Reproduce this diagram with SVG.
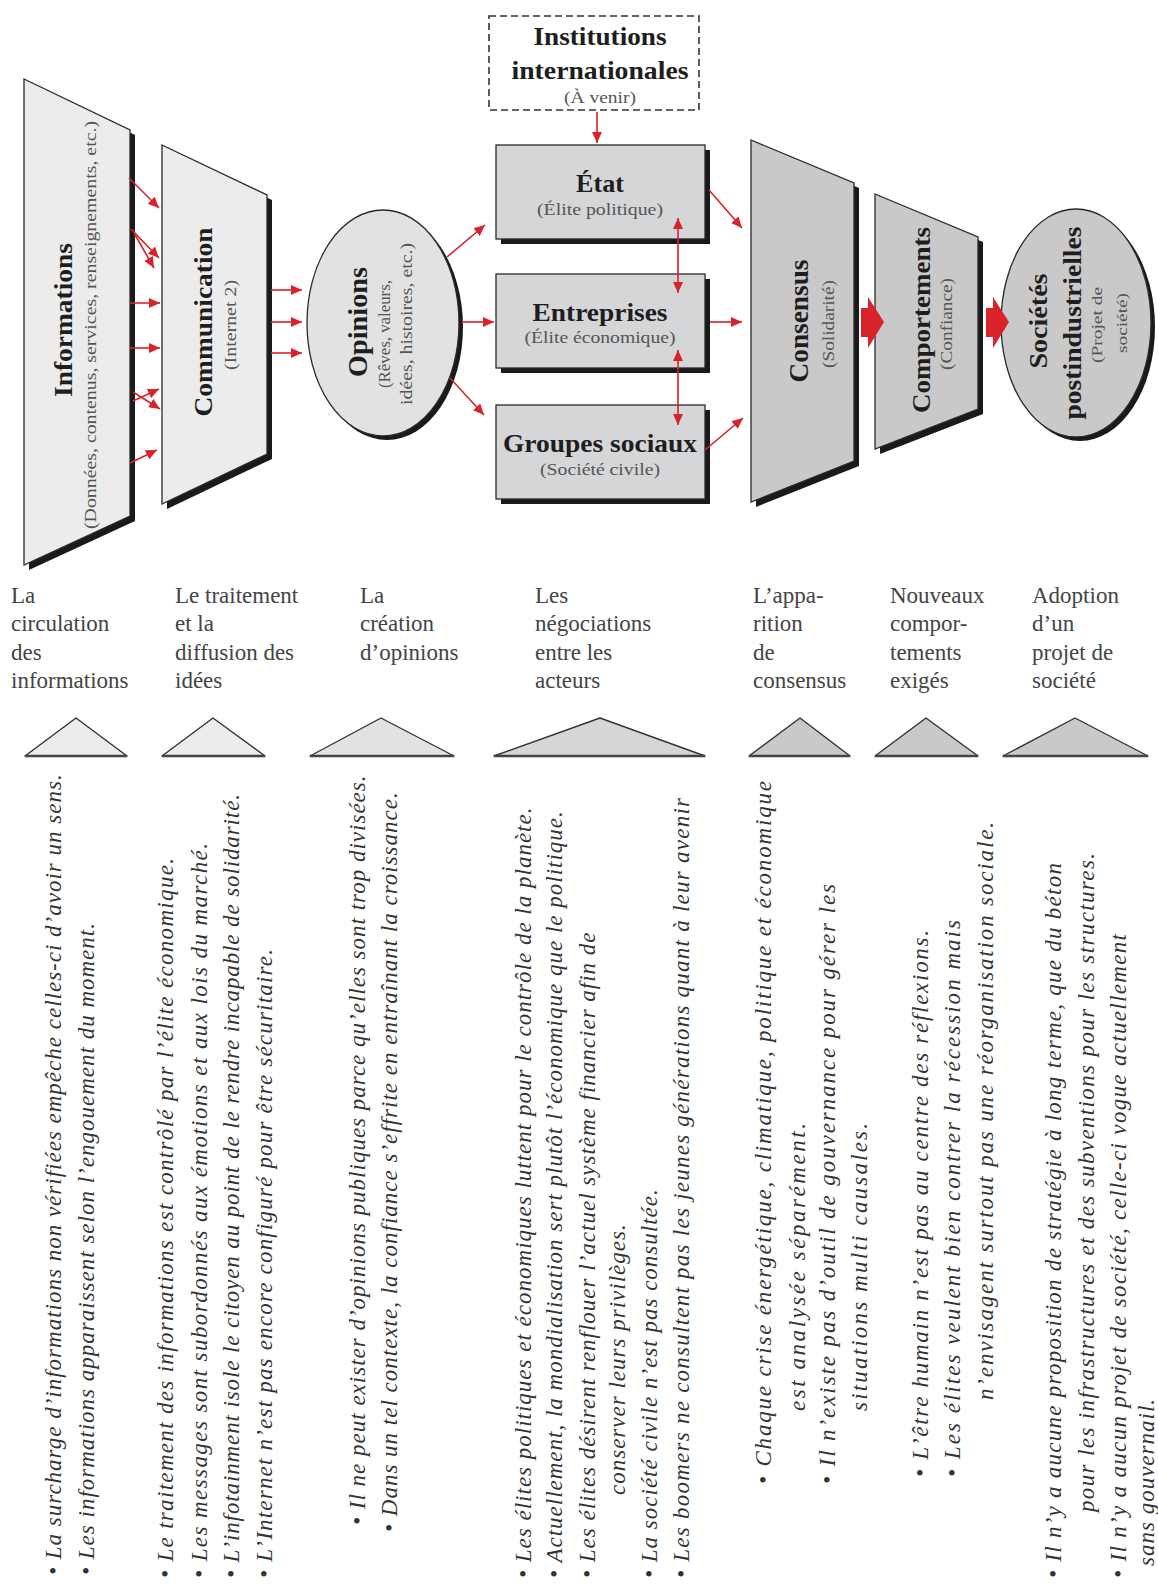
<svg xmlns="http://www.w3.org/2000/svg" width="1158" height="1591" viewBox="0 0 1158 1591">
  <style>
    .bg { fill: #ffffff; }
    .lbl { font-family: "Liberation Serif", "Times New Roman", serif; font-weight: bold; fill: #1e1e1e; }
    .sub { font-family: "Liberation Serif", "Times New Roman", serif; fill: #555555; }
    .stage { font-family: "Liberation Serif", "Times New Roman", serif; font-size: 23px; fill: #444444; }
    .note { font-family: "Liberation Serif", "Times New Roman", serif; font-style: italic; font-size: 23px; fill: #333333; letter-spacing: 1px; }
    .shadow { fill: #1a1a1a; }
    .edge { stroke: #2a2a2a; stroke-width: 1.3; }
    .light { fill: #ececec; }
    .mid { fill: #e2e2e2; }
    .box { fill: #d4d6d8; }
    .dark { fill: #c9c9c9; }
    .link { stroke: #d8232a; stroke-width: 1.6; fill: none; }
    .block { fill: #d8232a; }
    .tri { stroke: #333333; stroke-width: 1.4; stroke-linejoin: round; }
    .base { stroke: #444444; stroke-width: 2.6; }
  </style>
  <defs>
    <marker id="ah" markerUnits="userSpaceOnUse" markerWidth="12" markerHeight="10" refX="11" refY="5" orient="auto-start-reverse">
      <path d="M0,0 L11,5 L0,10 z" fill="#d8232a"/>
    </marker>
  </defs>

  <rect class="bg" x="0" y="0" width="1158" height="1591"/>

  <!-- Node: Informations -->
  <g id="informations">
    <polygon class="shadow" points="29,84 135,135 135,521 29,570"/>
    <polygon class="light edge" points="24,79 130,130 130,516 24,565"/>
    <text class="lbl" font-size="26" text-anchor="middle" textLength="154" lengthAdjust="spacingAndGlyphs" transform="translate(72,320) rotate(-90)">Informations</text>
    <text class="sub" font-size="17" text-anchor="middle" textLength="408" lengthAdjust="spacingAndGlyphs" transform="translate(96,325) rotate(-90)">(Données, contenus, services, renseignements, etc.)</text>
  </g>

  <!-- Node: Communication -->
  <g id="communication">
    <polygon class="shadow" points="167,150 272,200 272,459 167,509"/>
    <polygon class="light edge" points="162,145 267,195 267,454 162,504"/>
    <text class="lbl" font-size="26" text-anchor="middle" textLength="189" lengthAdjust="spacingAndGlyphs" transform="translate(212,322) rotate(-90)">Communication</text>
    <text class="sub" font-size="16" text-anchor="middle" textLength="90" lengthAdjust="spacingAndGlyphs" transform="translate(236,325) rotate(-90)">(Internet 2)</text>
  </g>

  <!-- Node: Opinions -->
  <g id="opinions">
    <ellipse class="shadow" cx="387" cy="327" rx="76" ry="113"/>
    <ellipse class="mid edge" cx="383" cy="323" rx="76" ry="113"/>
    <text class="lbl" font-size="27" text-anchor="middle" textLength="110" lengthAdjust="spacingAndGlyphs" transform="translate(367,322) rotate(-90)">Opinions</text>
    <text class="sub" font-size="17" text-anchor="middle" textLength="108" lengthAdjust="spacingAndGlyphs" transform="translate(390,334) rotate(-90)">(Rêves, valeurs,</text>
    <text class="sub" font-size="17" text-anchor="middle" textLength="162" lengthAdjust="spacingAndGlyphs" transform="translate(412,324) rotate(-90)">idées, histoires, etc.)</text>
  </g>

  <!-- Node: Institutions internationales -->
  <g id="institutions">
    <rect x="489" y="16" width="210" height="94" fill="#ffffff" stroke="#333333" stroke-width="1.6" stroke-dasharray="7,4"/>
    <text class="lbl" font-size="25" text-anchor="middle" x="600" y="45" textLength="133" lengthAdjust="spacingAndGlyphs">Institutions</text>
    <text class="lbl" font-size="25" text-anchor="middle" x="600" y="79" textLength="177" lengthAdjust="spacingAndGlyphs">internationales</text>
    <text class="sub" font-size="16" text-anchor="middle" x="600" y="103" textLength="72" lengthAdjust="spacingAndGlyphs">(À venir)</text>
  </g>

  <!-- Node: État -->
  <g id="etat">
    <rect class="shadow" x="501" y="150" width="209" height="94"/>
    <rect class="box edge" x="496" y="145" width="209" height="94"/>
    <text class="lbl" font-size="26" text-anchor="middle" x="600" y="192" textLength="48" lengthAdjust="spacingAndGlyphs">État</text>
    <text class="sub" font-size="17" text-anchor="middle" x="600" y="215" textLength="126" lengthAdjust="spacingAndGlyphs">(Élite politique)</text>
  </g>

  <!-- Node: Entreprises -->
  <g id="entreprises">
    <rect class="shadow" x="501" y="279" width="209" height="94"/>
    <rect class="box edge" x="496" y="274" width="209" height="94"/>
    <text class="lbl" font-size="26" text-anchor="middle" x="600" y="321" textLength="135" lengthAdjust="spacingAndGlyphs">Entreprises</text>
    <text class="sub" font-size="17" text-anchor="middle" x="600" y="343" textLength="151" lengthAdjust="spacingAndGlyphs">(Élite économique)</text>
  </g>

  <!-- Node: Groupes sociaux -->
  <g id="groupes">
    <rect class="shadow" x="501" y="410" width="209" height="94"/>
    <rect class="box edge" x="496" y="405" width="209" height="94"/>
    <text class="lbl" font-size="26" text-anchor="middle" x="600" y="452" textLength="194" lengthAdjust="spacingAndGlyphs">Groupes sociaux</text>
    <text class="sub" font-size="17" text-anchor="middle" x="600" y="475" textLength="120" lengthAdjust="spacingAndGlyphs">(Société civile)</text>
  </g>

  <!-- Node: Consensus -->
  <g id="consensus">
    <polygon class="shadow" points="756,145 859,188 859,466 756,507"/>
    <polygon class="dark edge" points="751,140 854,183 854,461 751,502"/>
    <text class="lbl" font-size="27" text-anchor="middle" textLength="123" lengthAdjust="spacingAndGlyphs" transform="translate(808,321) rotate(-90)">Consensus</text>
    <text class="sub" font-size="16" text-anchor="middle" textLength="88" lengthAdjust="spacingAndGlyphs" transform="translate(834,324) rotate(-90)">(Solidarité)</text>
  </g>

  <!-- Node: Comportements -->
  <g id="comportements">
    <polygon class="shadow" points="880,199 983,242 983,414 880,454"/>
    <polygon class="dark edge" points="875,194 978,237 978,409 875,449"/>
    <text class="lbl" font-size="26" text-anchor="middle" textLength="186" lengthAdjust="spacingAndGlyphs" transform="translate(930,320) rotate(-90)">Comportements</text>
    <text class="sub" font-size="16" text-anchor="middle" textLength="92" lengthAdjust="spacingAndGlyphs" transform="translate(952,324) rotate(-90)">(Confiance)</text>
  </g>

  <!-- Node: Sociétés postindustrielles -->
  <g id="societes">
    <ellipse class="shadow" cx="1080" cy="327" rx="75" ry="114"/>
    <ellipse class="dark edge" cx="1076" cy="323" rx="75" ry="114"/>
    <text class="lbl" font-size="26" text-anchor="middle" textLength="95" lengthAdjust="spacingAndGlyphs" transform="translate(1047,321) rotate(-90)">Sociétés</text>
    <text class="lbl" font-size="26" text-anchor="middle" textLength="193" lengthAdjust="spacingAndGlyphs" transform="translate(1081,323) rotate(-90)">postindustrielles</text>
    <text class="sub" font-size="15" text-anchor="middle" textLength="76" lengthAdjust="spacingAndGlyphs" transform="translate(1102,325) rotate(-90)">(Projet de</text>
    <text class="sub" font-size="15" text-anchor="middle" textLength="60" lengthAdjust="spacingAndGlyphs" transform="translate(1127,323) rotate(-90)">société)</text>
  </g>

  <!-- Connectors -->
  <g id="connectors">
    <!-- Informations to Communication -->
    <line class="link" x1="129" y1="178" x2="159" y2="208" marker-end="url(#ah)"/>
    <line class="link" x1="131" y1="229" x2="159" y2="258" marker-end="url(#ah)"/>
    <line class="link" x1="134" y1="233" x2="154" y2="268" marker-end="url(#ah)"/>
    <line class="link" x1="130" y1="303" x2="160" y2="303" marker-end="url(#ah)"/>
    <line class="link" x1="130" y1="348" x2="160" y2="348" marker-end="url(#ah)"/>
    <line class="link" x1="133" y1="392" x2="160" y2="409" marker-end="url(#ah)"/>
    <line class="link" x1="133" y1="401" x2="159" y2="389" marker-end="url(#ah)"/>
    <line class="link" x1="130" y1="463" x2="157" y2="450" marker-end="url(#ah)"/>
    <!-- Communication to Opinions -->
    <line class="link" x1="271" y1="290" x2="302" y2="290" marker-end="url(#ah)"/>
    <line class="link" x1="271" y1="322" x2="302" y2="322" marker-end="url(#ah)"/>
    <line class="link" x1="271" y1="353" x2="302" y2="353" marker-end="url(#ah)"/>
    <!-- Opinions to actors -->
    <line class="link" x1="447" y1="257" x2="485" y2="225" marker-end="url(#ah)"/>
    <line class="link" x1="462" y1="322" x2="494" y2="322" marker-end="url(#ah)"/>
    <line class="link" x1="450" y1="378" x2="484" y2="415" marker-end="url(#ah)"/>
    <!-- Institutions to État -->
    <line class="link" x1="597" y1="112" x2="597" y2="143" marker-end="url(#ah)"/>
    <!-- Between actors -->
    <line class="link" x1="678" y1="218" x2="678" y2="293" marker-start="url(#ah)" marker-end="url(#ah)"/>
    <line class="link" x1="678" y1="350" x2="678" y2="425" marker-start="url(#ah)" marker-end="url(#ah)"/>
    <!-- Actors to Consensus -->
    <line class="link" x1="709" y1="190" x2="742" y2="228" marker-end="url(#ah)"/>
    <line class="link" x1="710" y1="322" x2="742" y2="322" marker-end="url(#ah)"/>
    <line class="link" x1="705" y1="450" x2="743" y2="418" marker-end="url(#ah)"/>
    <!-- Block arrows -->
    <polygon class="block" points="861,308 868,308 868,297 884,322 868,348 868,337 861,337"/>
    <polygon class="block" points="986,308 993,308 993,297 1009,322 993,348 993,337 986,337"/>
  </g>

  <!-- Stage labels -->
  <g id="stages">
    <text class="stage" x="11" y="603">La</text>
    <text class="stage" x="11" y="631">circulation</text>
    <text class="stage" x="11" y="660">des</text>
    <text class="stage" x="11" y="688">informations</text>

    <text class="stage" x="175" y="603">Le traitement</text>
    <text class="stage" x="175" y="631">et la</text>
    <text class="stage" x="175" y="660">diffusion des</text>
    <text class="stage" x="175" y="688">idées</text>

    <text class="stage" x="360" y="603">La</text>
    <text class="stage" x="360" y="631">création</text>
    <text class="stage" x="360" y="660">d’opinions</text>

    <text class="stage" x="535" y="603">Les</text>
    <text class="stage" x="535" y="631">négociations</text>
    <text class="stage" x="535" y="660">entre les</text>
    <text class="stage" x="535" y="688">acteurs</text>

    <text class="stage" x="753" y="603">L’appa-</text>
    <text class="stage" x="753" y="631">rition</text>
    <text class="stage" x="753" y="660">de</text>
    <text class="stage" x="753" y="688">consensus</text>

    <text class="stage" x="890" y="603">Nouveaux</text>
    <text class="stage" x="890" y="631">compor-</text>
    <text class="stage" x="890" y="660">tements</text>
    <text class="stage" x="890" y="688">exigés</text>

    <text class="stage" x="1032" y="603">Adoption</text>
    <text class="stage" x="1032" y="631">d’un</text>
    <text class="stage" x="1032" y="660">projet de</text>
    <text class="stage" x="1032" y="688">société</text>
  </g>

  <!-- Stage markers -->
  <g id="markers">
    <polygon class="tri light" points="25,756 76,718 127,756"/>
    <line class="base" x1="25" y1="756" x2="127" y2="756"/>
    <polygon class="tri light" points="162,756 213,718 265,756"/>
    <line class="base" x1="162" y1="756" x2="265" y2="756"/>
    <polygon class="tri mid" points="310,756 381,718 454,756"/>
    <line class="base" x1="310" y1="756" x2="454" y2="756"/>
    <polygon class="tri box" points="494,756 600,718 705,756"/>
    <line class="base" x1="494" y1="756" x2="705" y2="756"/>
    <polygon class="tri dark" points="749,756 800,718 850,756"/>
    <line class="base" x1="749" y1="756" x2="850" y2="756"/>
    <polygon class="tri dark" points="875,756 926,718 978,756"/>
    <line class="base" x1="875" y1="756" x2="978" y2="756"/>
    <polygon class="tri dark" points="1003,756 1075,718 1148,756"/>
    <line class="base" x1="1003" y1="756" x2="1148" y2="756"/>
  </g>

  <!-- Observations, read bottom to top -->
  <g id="notes" xml:space="preserve">
    <text class="note" transform="translate(61,1575) rotate(-90)">• La surcharge d’informations non vérifiées empêche celles-ci d’avoir un sens.</text>
    <text class="note" transform="translate(94,1575) rotate(-90)">• Les informations apparaissent selon l’engouement du moment.</text>

    <text class="note" textLength="721" transform="translate(173,1578) rotate(-90)">• Le traitement des informations est contrôlé par l’élite économique.</text>
    <text class="note" textLength="736" transform="translate(207,1578) rotate(-90)">• Les messages sont subordonnés aux émotions et aux lois du marché.</text>
    <text class="note" textLength="785" transform="translate(239,1578) rotate(-90)">• L’infotainment isole le citoyen au point de le rendre incapable de solidarité.</text>
    <text class="note" textLength="630" transform="translate(272,1578) rotate(-90)">• L’Internet n’est pas encore configuré pour être sécuritaire.</text>

    <text class="note" transform="translate(365,1525) rotate(-90)">• Il ne peut exister d’opinions publiques parce qu’elles sont trop divisées.</text>
    <text class="note" transform="translate(397,1532) rotate(-90)">• Dans un tel contexte, la confiance s’effrite en entraînant la croissance.</text>

    <text class="note" transform="translate(531,1578) rotate(-90)">• Les élites politiques et économiques luttent pour le contrôle de la planète.</text>
    <text class="note" transform="translate(562,1578) rotate(-90)">• Actuellement, la mondialisation sert plutôt l’économique que le politique.</text>
    <text class="note" transform="translate(595,1578) rotate(-90)">• Les élites désirent renflouer l’actuel système financier afin de</text>
    <text class="note" transform="translate(625,1495) rotate(-90)">conserver leurs privilèges.</text>
    <text class="note" transform="translate(657,1578) rotate(-90)">• La société civile n’est pas consultée.</text>
    <text class="note" textLength="781" transform="translate(689,1578) rotate(-90)">• Les boomers ne consultent pas les  jeunes générations quant à leur avenir</text>

    <text class="note" textLength="704" transform="translate(771,1484) rotate(-90)">• Chaque crise énergétique,  climatique, politique et économique</text>
    <text class="note" textLength="289" transform="translate(805,1411) rotate(-90)">est analysée séparément.</text>
    <text class="note" textLength="601" transform="translate(835,1484) rotate(-90)">• Il n’existe pas d’outil de gouvernance pour gérer les</text>
    <text class="note" textLength="289" transform="translate(867,1411) rotate(-90)">situations multi causales.</text>

    <text class="note" textLength="548" transform="translate(928,1477) rotate(-90)">• L’être humain n’est pas au centre des réflexions.</text>
    <text class="note" textLength="558" transform="translate(960,1477) rotate(-90)">• Les élites veulent bien contrer la récession mais</text>
    <text class="note" textLength="579" transform="translate(993,1400) rotate(-90)">n’envisagent surtout pas une réorganisation sociale.</text>

    <text class="note" textLength="716" transform="translate(1061,1578) rotate(-90)">• Il n’y a aucune proposition de stratégie à long terme, que du béton</text>
    <text class="note" textLength="660" transform="translate(1094,1512) rotate(-90)">pour les infrastructures et des subventions pour les structures.</text>
    <text class="note" textLength="645" transform="translate(1126,1578) rotate(-90)">• Il n’y a aucun projet de société,   celle-ci vogue actuellement</text>
    <text class="note" transform="translate(1154,1566) rotate(-90)">sans gouvernail.</text>
  </g>
</svg>
